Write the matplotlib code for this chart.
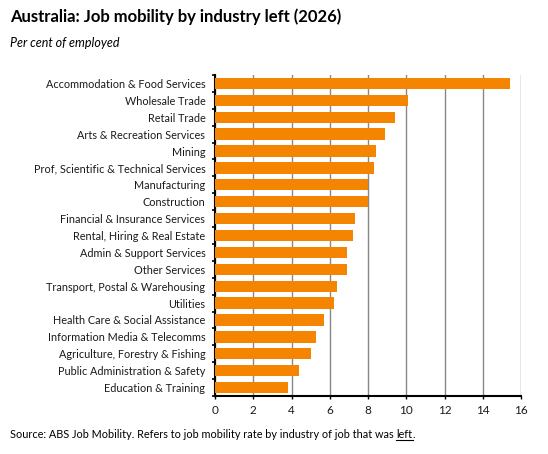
import matplotlib
matplotlib.use("Agg")
from matplotlib import pyplot as plt
from matplotlib.ticker import MultipleLocator, FixedLocator
import numpy as np

plt.rcParams["font.family"] = ["Lato", "DejaVu Sans"]

# Data
industries = ["Accommodation & Food Services", "Wholesale Trade", "Retail Trade",
              "Arts & Recreation Services", "Mining", "Prof, Scientific & Technical Services",
              "Manufacturing", "Construction", "Financial & Insurance Services",
              "Rental, Hiring & Real Estate", "Admin & Support Services", "Other Services",
              "Transport, Postal & Warehousing", "Utilities", "Health Care & Social Assistance",
              "Information Media & Telecomms", "Agriculture, Forestry & Fishing",
              "Public Administration & Safety", "Education & Training"]
mobility = [15.4, 10.1, 9.4, 8.9, 8.4, 8.3, 8.0, 8.0, 7.3, 7.2, 6.9, 6.9,
            6.4, 6.2, 5.7, 5.3, 5.0, 4.4, 3.8]
x_ticks = [0, 2, 4, 6, 8, 10, 12, 14, 16]

bar_color = "#F58500"
text_color = "#1a1a1a"

fig = plt.figure(figsize=(5.48, 4.54), dpi=100)
ax = fig.add_axes([215/548, 1-396/454, 306/548, 321/454])

y = np.arange(len(industries))
ax.barh(y, mobility, height=0.67, color=bar_color, zorder=3)
ax.set_ylim(len(industries)-0.5, -0.5)
ax.set_xlim(0, 16)

ax.set_xticks(x_ticks)
ax.set_yticks(y)
ax.set_yticklabels(industries)
ax.yaxis.set_minor_locator(FixedLocator(np.arange(-0.5, len(industries), 1)))
ax.tick_params(axis="y", which="major", length=0, pad=7, labelsize=7.8, labelcolor=text_color)
ax.tick_params(axis="y", which="minor", length=2.5, width=1.2, color="black", direction="out")
ax.tick_params(axis="x", length=2.5, width=1, color="black", labelsize=8.5,
               labelcolor=text_color, pad=4)

ax.grid(True, axis="x", color="#888888", linewidth=1, zorder=0)
for s in ["top", "right"]:
    ax.spines[s].set_visible(False)
ax.spines["left"].set_linewidth(1.5)
ax.spines["bottom"].set_linewidth(1.5)

# Titles
fig.text(10/548, 1-17/454, "Australia: Job mobility by industry left (2026)",
         fontsize=12, fontweight="bold", color="black", ha="left", va="center")
fig.text(10/548, 1-43/454, "Per cent of employed", fontsize=9, style="italic",
         color="black", ha="left", va="center")

# Source note, with "left" underlined
src_y = 1-438/454
t1 = fig.text(10/548, src_y, "Source: ABS Job Mobility. Refers to job mobility rate by industry of job that was ",
              fontsize=7.8, color="black", ha="left", va="baseline")
fig.canvas.draw()
renderer = fig.canvas.get_renderer()
bb = t1.get_window_extent(renderer).transformed(fig.transFigure.inverted())
t2 = fig.text(bb.x1, src_y, "left", fontsize=7.8, color="black", ha="left", va="baseline")
bb2 = t2.get_window_extent(renderer).transformed(fig.transFigure.inverted())
fig.lines.append(plt.Line2D([bb2.x0, bb2.x1], [src_y - 2/454, src_y - 2/454],
                            transform=fig.transFigure, color="black", linewidth=0.8))
fig.text(bb2.x1, src_y, ".", fontsize=7.8, color="black", ha="left", va="baseline")

plt.savefig("out.png", dpi=100)
